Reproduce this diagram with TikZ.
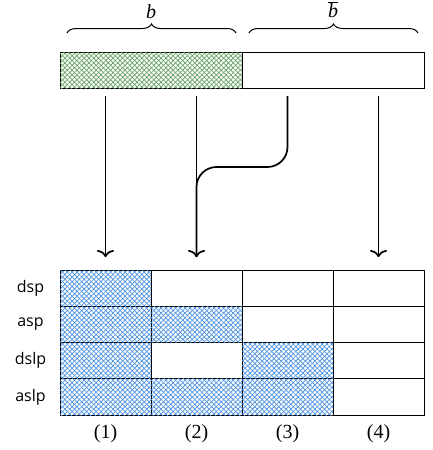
\documentclass[tikz,border=0pt]{standalone}
\usepackage{fontspec}
\setmainfont{Liberation Serif}
\newfontfamily\lblfont{Open Sans}
\usetikzlibrary{patterns.meta,decorations.pathreplacing,arrows.meta}
\definecolor{hatchblue}{RGB}{75,145,225}
\definecolor{hatchgreen}{RGB}{100,160,95}
\begin{document}
\begin{tikzpicture}[x=1pt,y=-1pt,
  cell/.style={draw=black, line width=1pt, minimum width=91pt, minimum height=36.3pt, inner sep=0pt, outer sep=0pt},
  barcell/.style={draw=black, line width=1pt, minimum width=182pt, minimum height=36pt, inner sep=0pt, outer sep=0pt},
  hatch/.style={pattern={Lines[angle=45,distance=3.4pt,line width=0.7pt]}, pattern color=#1,
    postaction={pattern={Lines[angle=-45,distance=3.4pt,line width=0.7pt]}, pattern color=#1}},
  arr/.style={-{To[length=7pt,width=17pt]}, line width=1.7pt},
  lbl/.style={font=\lblfont\fontsize{16}{18}\selectfont},
  num/.style={font=\fontsize{20}{22}\selectfont},
  mth/.style={font=\fontsize{20}{22}\selectfont},
  brc/.style={decorate, decoration={brace, amplitude=9pt}, line width=1pt}]
\useasboundingbox (0,0) rectangle (432,450);
% top bar
\node[barcell, hatch=hatchgreen] (bl) at (151,70) {};
\node[barcell] (br) at (333,70) {};
% braces
\coordinate (b1s) at (67,33); \coordinate (b1e) at (236,33);
\coordinate (b2s) at (249,33); \coordinate (b2e) at (418,33);
\draw[brc] (b1s) -- (b1e);
\draw[brc] (b2s) -- (b2e);
\node[mth] (lb) at (151,12) {\itshape b};
\node[mth] (lbb) at (333,10) {$\overline{\hbox{\itshape b}}$};
% grid
\foreach \r/\yy in {1/288.2,2/324.5,3/360.8,4/397.1}{
  \foreach \c/\xx in {1/105.5,2/196.5,3/287.5,4/378.5}{
    \node[cell] (c\r\c) at (\xx,\yy) {};
  }
}
\foreach \n in {11,21,31,41,22,42,33,43}{
  \node[cell, hatch=hatchblue] at (c\n) {};
}
% row labels
\node[lbl] (rdsp) at (30.5,288.2) {dsp};
\node[lbl] (rasp) at (30.5,324.5) {asp};
\node[lbl] (rdslp) at (30.5,360.8) {dslp};
\node[lbl] (raslp) at (30.5,397.1) {aslp};
% column labels
\node[num] (n1) at (105.5,434) {(1)};
\node[num] (n2) at (196.5,434) {(2)};
\node[num] (n3) at (287.5,434) {(3)};
\node[num] (n4) at (378.5,434) {(4)};
% arrows
\coordinate (s1) at (105.5,96); \coordinate (e1) at (105.5,257);
\coordinate (s2) at (196.5,96); \coordinate (e2) at (196.5,257);
\coordinate (s3) at (287.5,96); \coordinate (k3) at (287.5,167); \coordinate (m3) at (196.5,167);
\coordinate (s4) at (378.5,96); \coordinate (e4) at (378.5,257);
\draw[arr] (s1) -- (e1);
\draw[arr] (s2) -- (e2);
\draw[line width=1.7pt, rounded corners=20pt] (s3) -- (k3) -- (m3) -- (e2);
\draw[arr] (s4) -- (e4);
\end{tikzpicture}
\end{document}
